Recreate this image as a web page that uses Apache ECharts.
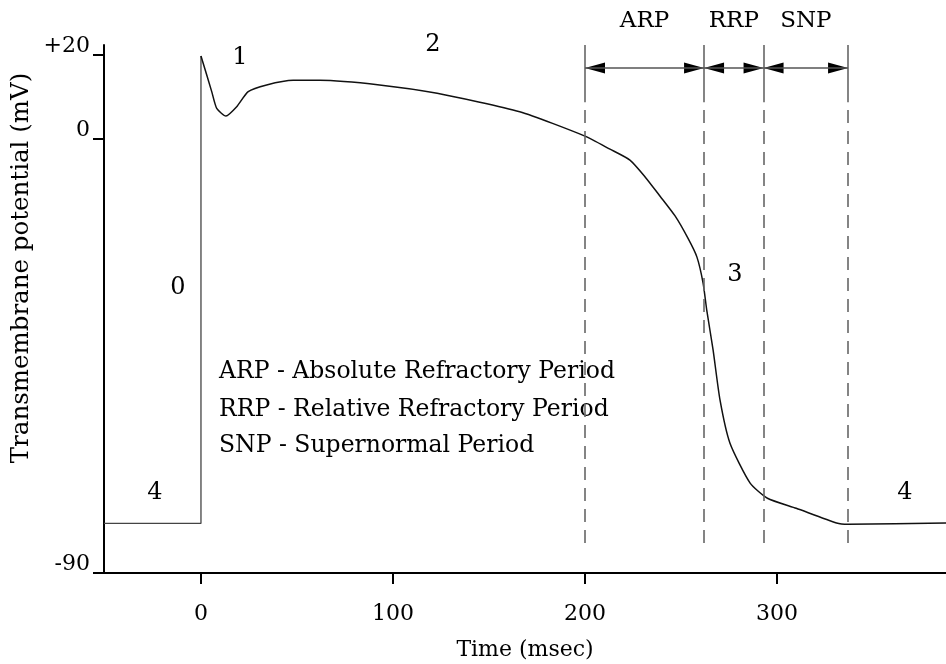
<!DOCTYPE html>
<html>
<head>
<meta charset="utf-8">
<script src="https://cdn.jsdelivr.net/npm/echarts@6/dist/echarts.min.js"></script>
<style>
html, body { margin: 0; padding: 0; background: #fff; }
#chart { width: 946px; height: 664px; }
</style>
</head>
<body>
<div id="chart"></div>
<script>
// schematic axes: bottom of the y axis is labelled -90
const xMin = -50.5, xMax = 388
const yMin = -103.3, yMax = 22.4
const xTicks = [0, 100, 200, 300]
const yTickValues = [yMin, 0, 20]
const yTickLabels = ['-90', '0', '+20']

// phase 4 (rest) and phase 0 upstroke
const restPotential = -91.5
const upstrokeTime = [xMin, 0, 0]
const upstrokeMv = [restPotential, restPotential, 19.8]

// phases 1-4 after the peak
const apTime = [0, 5.6, 8.2, 13, 18.6, 24.6, 34.2, 48, 62, 93, 123, 166, 200, 213, 223.4, 231.3, 239.1, 246.9, 253.6, 258.3, 261.5, 263.4, 266.7, 270.3, 275.5, 286, 295, 310, 331, 337, 388]
const apMv = [19.8, 11.3, 7.3, 5.5, 7.7, 11.3, 12.9, 14, 14, 12.9, 10.9, 6.5, 0.7, -2.4, -5, -9, -13.6, -18.3, -23.6, -28.1, -34.3, -40.7, -50.2, -62.1, -72.4, -81.9, -85.5, -87.9, -91.4, -91.7, -91.4]

// refractory periods
const periodNames = ['ARP', 'RRP', 'SNP']
const periodBounds = [200, 262, 293, 337]
const arrowLevel = 16.9
const solidBottom = 8.8
const dashTop = 6.9
const dashBottom = -97.4

const legendLines = [
  'ARP - Absolute Refractory Period',
  'RRP - Relative Refractory Period',
  'SNP - Supernormal Period'
]

const serif = 'DejaVu Serif'

const zip = (a, b) => a.map((v, i) => [v, b[i]])

const boundaryLines = []
periodBounds.forEach(x => {
  boundaryLines.push([{ coord: [x, yMax] }, { coord: [x, solidBottom] }])
  boundaryLines.push([
    { coord: [x, dashTop], lineStyle: { type: [13, 8] } },
    { coord: [x, dashBottom] }
  ])
})

const arrowLines = periodNames.map((name, i) => [
  { coord: [periodBounds[i], arrowLevel], name: name },
  { coord: [periodBounds[i + 1], arrowLevel] }
])

function textEl(text, x, y, size, align, rotation) {
  return {
    type: 'text',
    x: x,
    y: y,
    rotation: rotation || 0,
    style: {
      text: text,
      fontFamily: serif,
      fontSize: size,
      fill: '#000',
      align: align || 'center',
      verticalAlign: 'middle'
    }
  }
}

const chart = echarts.init(document.getElementById('chart'))
chart.setOption({
  animation: false,
  grid: { left: 104, right: 0, top: 45, bottom: 91, outerBoundsMode: 'none' },
  xAxis: {
    type: 'value',
    min: xMin,
    max: xMax,
    name: 'Time (msec)',
    nameLocation: 'middle',
    nameGap: 66,
    nameTextStyle: { fontFamily: serif, fontSize: 22, color: '#000' },
    axisLine: { onZero: false, lineStyle: { color: '#000', width: 2 } },
    axisTick: { customValues: xTicks, length: 11, lineStyle: { color: '#000', width: 2 } },
    axisLabel: { customValues: xTicks, margin: 30, fontFamily: serif, fontSize: 22, color: '#000' },
    splitLine: { show: false }
  },
  yAxis: {
    type: 'value',
    min: yMin,
    max: yMax,
    axisLine: { show: true, onZero: false, lineStyle: { color: '#000', width: 2 } },
    axisTick: { show: true, customValues: yTickValues, length: 11, lineStyle: { color: '#000', width: 2 } },
    axisLabel: {
      customValues: yTickValues,
      margin: 14,
      verticalAlign: 'bottom',
      lineHeight: 18,
      fontFamily: serif,
      fontSize: 22,
      color: '#000',
      formatter: v => yTickLabels[yTickValues.indexOf(v)]
    },
    splitLine: { show: false }
  },
  graphic: [
    textEl('Transmembrane potential (mV)', 22, 268, 24.5, 'center', Math.PI / 2),
    textEl('0', 178, 288, 24),
    textEl('1', 240, 58, 24),
    textEl('2', 433, 45, 24),
    textEl('3', 735, 275, 24),
    textEl('4', 155, 493, 24),
    textEl('4', 905, 493, 24),
    textEl(legendLines[0], 219, 372, 23.5, 'left'),
    textEl(legendLines[1], 219, 410, 23.5, 'left'),
    textEl(legendLines[2], 219, 446, 23.5, 'left')
  ],
  series: [
    {
      type: 'line',
      data: zip(upstrokeTime, upstrokeMv),
      showSymbol: false,
      lineStyle: { color: '#444', width: 1.3 }
    },
    {
      type: 'line',
      data: zip(apTime, apMv),
      smooth: 0.2,
      showSymbol: false,
      lineStyle: { color: '#111', width: 1.5 },
      markLine: {
        silent: true,
        symbol: ['none', 'none'],
        label: { show: false },
        lineStyle: { color: '#666', width: 1.6, type: 'solid' },
        data: boundaryLines
      }
    },
    {
      type: 'line',
      data: [],
      markLine: {
        silent: true,
        symbol: ['none', 'none'],
        lineStyle: { color: '#555', width: 1.6, type: 'solid' },
        label: {
          show: true,
          position: 'middle',
          distance: 36,
          formatter: p => p.name,
          fontFamily: serif,
          fontSize: 23,
          color: '#000'
        },
        data: arrowLines
      }
    },
    {
      // arrowheads pointing left, at the start of each period
      type: 'scatter',
      data: periodBounds.slice(0, 3).map(x => [x, arrowLevel]),
      symbol: 'path://M20,0 L0,5 L20,10 Z',
      symbolSize: [20, 11],
      symbolOffset: [10, 0],
      itemStyle: { color: '#000', opacity: 1 },
      silent: true
    },
    {
      // arrowheads pointing right, at the end of each period
      type: 'scatter',
      data: periodBounds.slice(1).map(x => [x, arrowLevel]),
      symbol: 'path://M0,0 L20,5 L0,10 Z',
      symbolSize: [20, 11],
      symbolOffset: [-10, 0],
      itemStyle: { color: '#000', opacity: 1 },
      silent: true
    }
  ]
})
</script>
</body>
</html>
